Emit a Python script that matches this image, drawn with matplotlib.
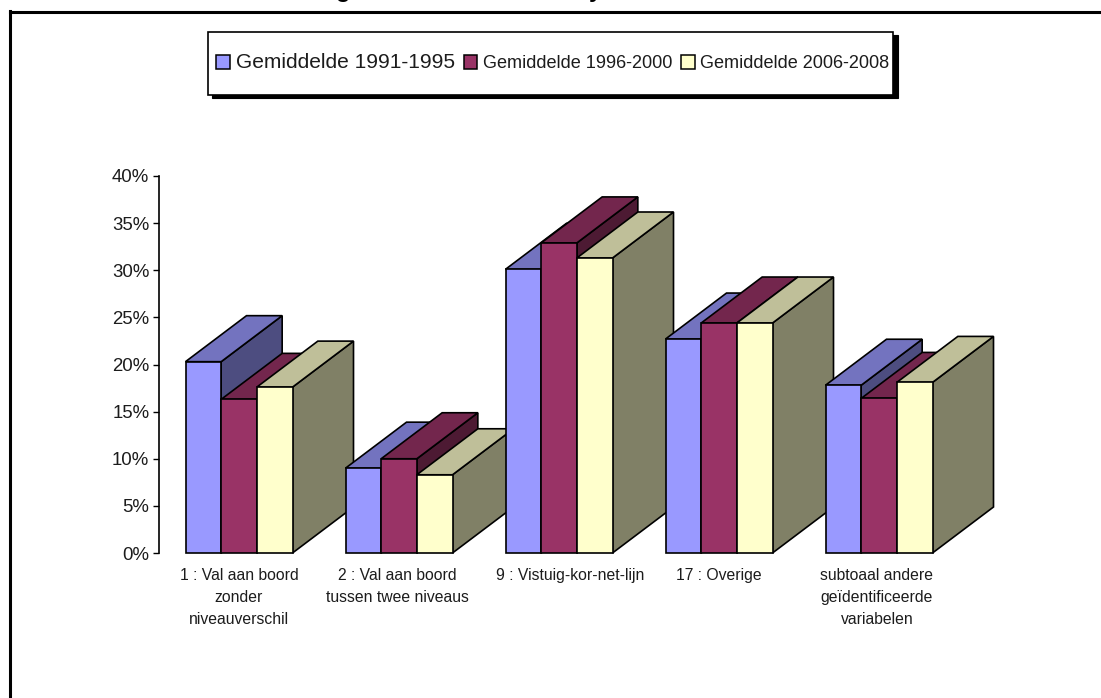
from __future__ import annotations

import matplotlib

matplotlib.use("Agg")
import matplotlib.pyplot as plt
from matplotlib.lines import Line2D
from matplotlib.patches import Patch, Rectangle
from matplotlib.transforms import ScaledTranslation

categories = [
    "1 : Val aan boord\nzonder\nniveauverschil",
    "2 : Val aan boord\ntussen twee niveaus",
    "9 : Vistuig-kor-net-lijn",
    "17 : Overige",
    "subtoaal andere\ngeïdentificeerde\nvariabelen",
]
series_names = ["Gemiddelde 1991-1995", "Gemiddelde 1996-2000", "Gemiddelde 2006-2008"]
avg_1991_1995 = [20.3, 9.0, 30.1, 22.7, 17.8]
avg_1996_2000 = [16.3, 10.0, 32.9, 24.4, 16.4]
avg_2006_2008 = [17.6, 8.3, 31.3, 24.4, 18.1]
y_ticks = [0, 5, 10, 15, 20, 25, 30, 35, 40]

W, H = 1101, 698
BAR_W = 107 / 160 / 3
DEPTH_X = 61 / 160
DEPTH_Y = 46 / 9.425
FRONT = ["#9999ff", "#993366", "#ffffcc"]
TOP = ["#7373bf", "#73264d", "#bfbf99"]
SIDE = ["#4d4d80", "#4d1a33", "#808066"]
EDGE_LW = 1.2
TEXT_COLOR = "#1c1c1c"


def fx(px: float) -> float:
    return px / W


def fy(px: float) -> float:
    return 1 - px / H


def draw_bar(ax, x0: float, value: float, idx: int, z: int) -> None:
    x1 = x0 + BAR_W
    kw = dict(edgecolor="black", linewidth=EDGE_LW, clip_on=False, zorder=z, joinstyle="miter")
    ax.fill(
        [x1, x1 + DEPTH_X, x1 + DEPTH_X, x1],
        [0, DEPTH_Y, value + DEPTH_Y, value],
        facecolor=SIDE[idx],
        **kw,
    )
    ax.fill(
        [x0, x0 + DEPTH_X, x1 + DEPTH_X, x1],
        [value, value + DEPTH_Y, value + DEPTH_Y, value],
        facecolor=TOP[idx],
        **kw,
    )
    ax.fill([x0, x1, x1, x0], [0, 0, value, value], facecolor=FRONT[idx], **kw)


def main() -> None:
    plt.rcParams["font.family"] = ["Liberation Sans", "DejaVu Sans"]
    fig = plt.figure(figsize=(W / 100, H / 100), dpi=100, facecolor="white")

    # outer chart frame, runs off the right and bottom of the picture
    fig.add_artist(Line2D([fx(10), 1], [fy(12), fy(12)], color="black", linewidth=2.2))
    fig.add_artist(Line2D([fx(10), fx(10)], [fy(11), 0], color="black", linewidth=2.2))

    # only the descenders of the cut-off title show
    fig.text(fx(343), fy(-2.5), "g", fontsize=17, fontweight="bold", ha="center", va="baseline")
    fig.text(fx(595), fy(-2.5), "y", fontsize=17, fontweight="bold", ha="center", va="baseline")

    ax = fig.add_axes([fx(159), fy(553), 800 / W, 377 / H])
    ax.set_xlim(-0.5, 4.5)
    ax.set_ylim(0, 40)
    ax.patch.set_visible(False)
    for side in ("top", "right", "bottom"):
        ax.spines[side].set_visible(False)
    ax.spines["left"].set_linewidth(1.2)

    ax.set_yticks(y_ticks, [f"{t}%" for t in y_ticks])
    ax.tick_params(axis="y", length=4, width=1.0, pad=3, labelsize=13.4, labelcolor=TEXT_COLOR)
    ax.set_xticks(range(len(categories)), categories)
    ax.tick_params(axis="x", length=0, pad=11, labelsize=11.3, labelcolor=TEXT_COLOR)
    for label in ax.get_xticklabels():
        label.set_linespacing(1.57)
        label.set_verticalalignment("top")
    nudge = [0, -2, 11, 0, -2]
    for label, dx in zip(ax.get_xticklabels(), nudge):
        label.set_transform(label.get_transform() + ScaledTranslation(dx / 100, 0, fig.dpi_scale_trans))

    series = [avg_1991_1995, avg_1996_2000, avg_2006_2008]
    z = 3
    for c in range(len(categories)):
        left = c - 1.5 * BAR_W
        for s, values in enumerate(series):
            draw_bar(ax, left + s * BAR_W, values[c], s, z)
            z += 1

    # legend box with hard shadow
    fig.add_artist(Rectangle((fx(212), fy(98)), 686 / W, 63 / H, transform=fig.transFigure,
                             facecolor="black", edgecolor="black", linewidth=0.8))
    fig.add_artist(Rectangle((fx(208), fy(95)), 685 / W, 63 / H, transform=fig.transFigure,
                             facecolor="white", edgecolor="black", linewidth=1.2))
    handles = [Patch(facecolor=FRONT[i], edgecolor="black", linewidth=1.1) for i in range(3)]
    leg = fig.legend(
        handles,
        series_names,
        ncols=3,
        frameon=False,
        loc="center",
        bbox_to_anchor=(fx(553), fy(63)),
        fontsize=13.1,
        handlelength=0.75,
        handleheight=0.75,
        handletextpad=0.3,
        columnspacing=0.5,
        borderpad=0,
        borderaxespad=0,
        labelcolor=TEXT_COLOR,
    )
    leg.get_texts()[0].set_fontsize(15.1)

    fig.savefig("out.png", dpi=100)
    plt.close(fig)


if __name__ == "__main__":
    main()
